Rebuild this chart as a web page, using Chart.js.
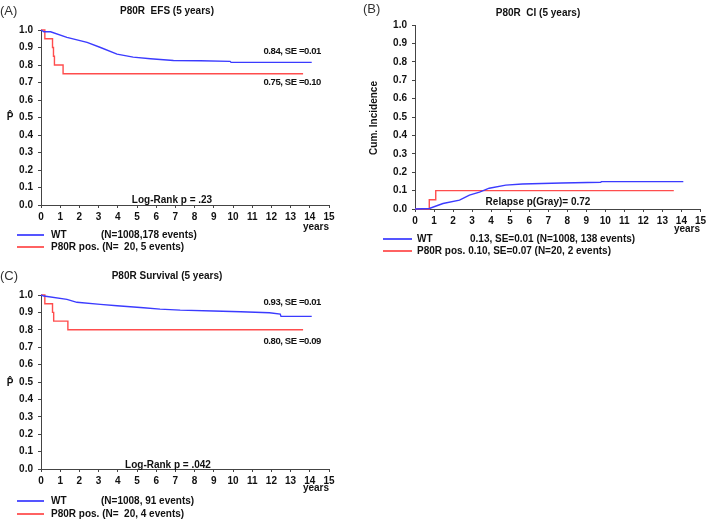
<!DOCTYPE html>
<html lang="en">
<head>
<meta charset="UTF-8">
<title>P80R EFS, CI and Survival</title>
<script src="https://cdn.jsdelivr.net/npm/chart.js"></script>
<style>
    body {
        margin: 0;
        width: 709px;
        height: 520px;
        position: relative;
        overflow: hidden;
        background: #ffffff;
        font-family: 'Liberation Sans', Arial, sans-serif;
        color: #111;
    }
    canvas { position: absolute; }
    .t {
        position: absolute;
        white-space: pre;
        font-size: 10px;
        font-weight: bold;
        line-height: 1;
        transform: translate(0, -50%);
    }
    .c { transform: translate(-50%, -50%); }
    .r { transform: translate(-100%, -50%); font-size: 9.5px; letter-spacing: -0.4px; }
    .panel { font-size: 13px; font-weight: normal; color: #333; }
    .rot { transform: translate(-50%, -50%) rotate(-90deg); }
    .key { position: absolute; height: 2px; }
</style>
</head>
<body>
    <canvas id="efsChart" width="340" height="232" style="left:0;top:0"></canvas>
    <canvas id="ciChart" width="349" height="232" style="left:360px;top:0"></canvas>
    <canvas id="osChart" width="340" height="232" style="left:0;top:266px"></canvas>

    <!-- (A) -->
    <div class="t panel" style="left:0;top:10px">(A)</div>
    <div class="t c" style="left:167px;top:11px">P80R  EFS (5 years)</div>
    <div class="t r" style="left:321px;top:51px">0.84, SE =0.01</div>
    <div class="t r" style="left:321px;top:82px">0.75, SE =0.10</div>
    <div class="t c" style="left:10px;top:117px">P&#770;</div>
    <div class="t c" style="left:172px;top:200px">Log-Rank p = .23</div>
    <div class="t c" style="left:316px;top:227px">years</div>
    <div class="key" style="left:17px;width:27px;top:234px;background:#5555ff"></div>
    <div class="t" style="left:51px;top:235px">WT</div>
    <div class="t" style="left:101px;top:235px">(N=1008,178 events)</div>
    <div class="key" style="left:17px;width:27px;top:246px;background:#ff6262"></div>
    <div class="t" style="left:51px;top:247px">P80R pos. (N=  20, 5 events)</div>

    <!-- (B) -->
    <div class="t panel" style="left:363px;top:8px">(B)</div>
    <div class="t c" style="left:538px;top:13px">P80R  CI (5 years)</div>
    <div class="t rot" style="left:374px;top:118px">Cum. Incidence</div>
    <div class="t c" style="left:538px;top:202px">Relapse p(Gray)= 0.72</div>
    <div class="t c" style="left:687px;top:229px">years</div>
    <div class="key" style="left:383px;width:29px;top:238px;background:#5555ff"></div>
    <div class="t" style="left:417px;top:239px">WT</div>
    <div class="t" style="left:470px;top:239px">0.13, SE=0.01 (N=1008, 138 events)</div>
    <div class="key" style="left:383px;width:29px;top:250px;background:#ff6262"></div>
    <div class="t" style="left:417px;top:251px">P80R pos. 0.10, SE=0.07 (N=20, 2 events)</div>

    <!-- (C) -->
    <div class="t panel" style="left:0;top:275px">(C)</div>
    <div class="t c" style="left:167px;top:276px">P80R Survival (5 years)</div>
    <div class="t r" style="left:321px;top:302px">0.93, SE =0.01</div>
    <div class="t r" style="left:321px;top:341px">0.80, SE =0.09</div>
    <div class="t c" style="left:10px;top:383px">P&#770;</div>
    <div class="t c" style="left:168px;top:465px">Log-Rank p = .042</div>
    <div class="t c" style="left:316px;top:488px">years</div>
    <div class="key" style="left:17px;width:27px;top:500px;background:#5555ff"></div>
    <div class="t" style="left:51px;top:501px">WT</div>
    <div class="t" style="left:101px;top:501px">(N=1008, 91 events)</div>
    <div class="key" style="left:17px;width:27px;top:513px;background:#ff6262"></div>
    <div class="t" style="left:51px;top:514px">P80R pos. (N=  20, 4 events)</div>

    <script>
        const xTicks = [0, 1, 2, 3, 4, 5, 6, 7, 8, 9, 10, 11, 12, 13, 14, 15];
        const yTicks = [0, 0.1, 0.2, 0.3, 0.4, 0.5, 0.6, 0.7, 0.8, 0.9, 1.0];

        // (A) event-free survival
        const efsWtYears = [0, 0.15, 0.5, 1.35, 2.4, 3.1, 3.96, 4.8, 5.7, 6.9, 8.3, 9.85, 9.9, 14.1];
        const efsWtProb  = [1.0, 0.99, 0.99, 0.958, 0.929, 0.90, 0.862, 0.845, 0.836, 0.826, 0.824, 0.821, 0.815, 0.815];
        const efsPosYears = [0, 0.2, 0.6, 0.65, 0.7, 1.15, 13.65];
        const efsPosProb  = [1.0, 0.95, 0.90, 0.85, 0.80, 0.75, 0.75];

        // (B) cumulative incidence of relapse
        const ciWtYears = [0, 0.75, 1.47, 2.34, 2.86, 3.39, 3.9, 4.77, 5.64, 7.7, 9.75, 9.8, 14.1];
        const ciWtProb  = [0, 0.003, 0.03, 0.048, 0.075, 0.092, 0.113, 0.13, 0.136, 0.141, 0.145, 0.149, 0.149];
        const ciPosYears = [0, 0.75, 1.09, 13.6];
        const ciPosProb  = [0, 0.05, 0.10, 0.10];

        // (C) overall survival
        const osWtYears = [0, 0.15, 1.35, 1.87, 3.09, 3.96, 5.34, 6.2, 7.25, 8.99, 10.4, 11.9, 12.46, 12.5, 14.1];
        const osWtProb  = [1.0, 0.994, 0.975, 0.958, 0.946, 0.938, 0.927, 0.919, 0.913, 0.908, 0.904, 0.898, 0.89, 0.877, 0.877];
        const osPosYears = [0, 0.2, 0.6, 0.66, 1.4, 13.65];
        const osPosProb  = [1.0, 0.95, 0.90, 0.85, 0.80, 0.80];

        const blue = '#3b3bff';
        const red = '#ff4d4d';
        const axisColor = '#444';
        const tickFont = { family: 'Liberation Sans', size: 10, weight: 'bold' };

        function pts(xs, ys) {
            return xs.map((x, i) => ({ x: x, y: ys[i] }));
        }

        function drawPanel(id, box, wt, pos) {
            let ctx = document.getElementById(id).getContext('2d');
            return new Chart(ctx, {
                type: 'line',
                data: {
                    datasets: [
                        { data: wt, borderColor: blue, borderWidth: 1.4, pointRadius: 0, tension: 0, clip: false },
                        { data: pos, borderColor: red, borderWidth: 1.4, pointRadius: 0, stepped: 'before', clip: false }
                    ]
                },
                options: {
                    responsive: false,
                    animation: false,
                    events: [],
                    layout: { padding: { left: 0, right: box.right, top: box.top, bottom: 0 } },
                    plugins: { legend: { display: false }, tooltip: { enabled: false } },
                    scales: {
                        x: {
                            type: 'linear',
                            min: 0,
                            max: 15,
                            afterBuildTicks: s => { s.ticks = xTicks.map(v => ({ value: v })); },
                            afterFit: s => { s.height = box.xh; },
                            grid: { drawOnChartArea: false, tickLength: 3, color: axisColor },
                            border: { color: axisColor },
                            ticks: { font: tickFont, color: '#111', padding: 3, maxRotation: 0, autoSkip: false }
                        },
                        y: {
                            min: 0,
                            max: 1,
                            afterBuildTicks: s => { s.ticks = yTicks.map(v => ({ value: v })); },
                            afterFit: s => { s.width = box.yw; },
                            grid: { drawOnChartArea: false, tickLength: 3, color: axisColor },
                            border: { color: axisColor },
                            ticks: { font: tickFont, color: '#111', padding: 5, callback: v => v.toFixed(1) }
                        }
                    }
                }
            });
        }

        drawPanel('efsChart', { top: 30, right: 11, yw: 41, xh: 27 },
            pts(efsWtYears, efsWtProb), pts(efsPosYears, efsPosProb));
        drawPanel('ciChart', { top: 25, right: 6, yw: 55, xh: 23 },
            pts(ciWtYears, ciWtProb), pts(ciPosYears, ciPosProb));
        drawPanel('osChart', { top: 29, right: 11, yw: 41, xh: 29 },
            pts(osWtYears, osWtProb), pts(osPosYears, osPosProb));
    </script>
</body>
</html>
